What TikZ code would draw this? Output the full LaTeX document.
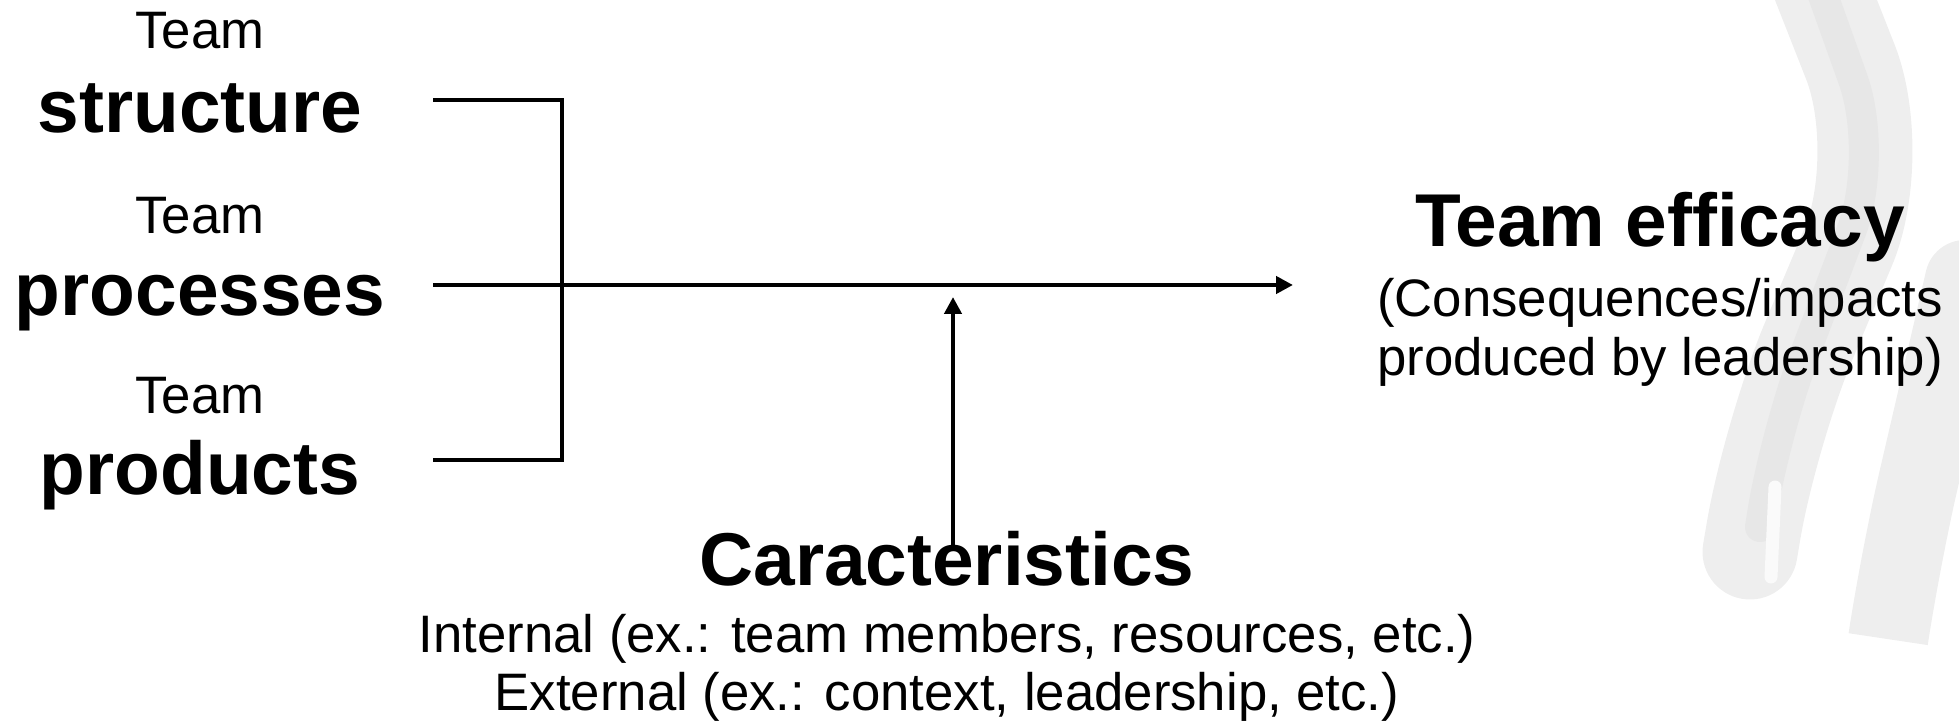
\documentclass[tikz,border=0pt]{standalone}
\usepackage{fontspec}
\setmainfont{Liberation Sans}
\usetikzlibrary{arrows.meta}
\tikzset{
	small/.style={font=\fontsize{15}{18}\selectfont, inner sep=0, anchor=base},
	big/.style={font=\fontsize{21.3}{24}\selectfont\bfseries, inner sep=0, anchor=base},
	link/.style={line width=1.4pt},
	tip/.style={-{Triangle[length=1.7mm,width=1.7mm]}}
}

\begin{document}
\begin{tikzpicture}
		%%%%% START %%%%%
		\useasboundingbox (0, 0) rectangle (19.59, 7.27);
		
		% faded shape in the background
		\draw[gray!13, line width=0.95cm, line cap=round, rounded corners=1cm] (18.13, 7.6) -- (18.87, 5.72) -- (17.7, 2.94) -- (17.5, 1.75);
		\draw[gray!19, line width=0.3cm, line cap=round, rounded corners=0.8cm] (18.2, 7.4) -- (18.8, 5.72) -- (17.75, 2.94) -- (17.6, 2.0);
		\draw[gray!4, line width=0.13cm, line cap=round] (17.75, 2.4) -- (17.71, 1.5);
		\draw[gray!13, line width=0.8cm, line cap=round, rounded corners=0.8cm] (19.65, 4.47) -- (19.0, 1.67) -- (18.9, 1.0);
		
		\node[small] (team1) at (2, 6.78) {Team};
		\node[big] (struct) at (2, 5.94) {structure};
		\node[small] (team2) at (2, 4.935) {Team};
		\node[big] (proc) at (2, 4.11) {processes};
		\node[small] (team3) at (2, 3.13) {Team};
		\node[big] (prod) at (2, 2.32) {products};
		
		\node[big] (effic) at (16.6, 4.8) {Team efficacy};
		\node[small] (cons1) at (16.6, 4.1) {(Consequences/impacts};
		\node[small] (cons2) at (16.6, 3.51) {produced by leadership)};
		
		\node[big] (carac) at (9.47, 1.42) {Caracteristics};
		\node[small] (intern) at (9.47, 0.75) {Internal (ex.: team members, resources, etc.)};
		\node[small] (extern) at (9.47, 0.165) {External (ex.: context, leadership, etc.)};
		
		\coordinate (structEnd) at (4.33, 6.27);
		\coordinate (procEnd) at (4.33, 4.42);
		\coordinate (prodEnd) at (4.33, 2.67);
		\coordinate (arrowEnd) at (12.93, 4.42);
		\coordinate (caracTop) at (9.53, 1.82);
		\coordinate (caracTip) at (9.53, 4.3);
		
		\draw[link] (structEnd) -| (5.62, 4.42) |- (prodEnd);
		\draw[link, tip] (procEnd) -- (arrowEnd);
		\draw[link, tip] (caracTop) -- (caracTip);
		%%%%% END %%%%%
	\end{tikzpicture}
\end{document}
